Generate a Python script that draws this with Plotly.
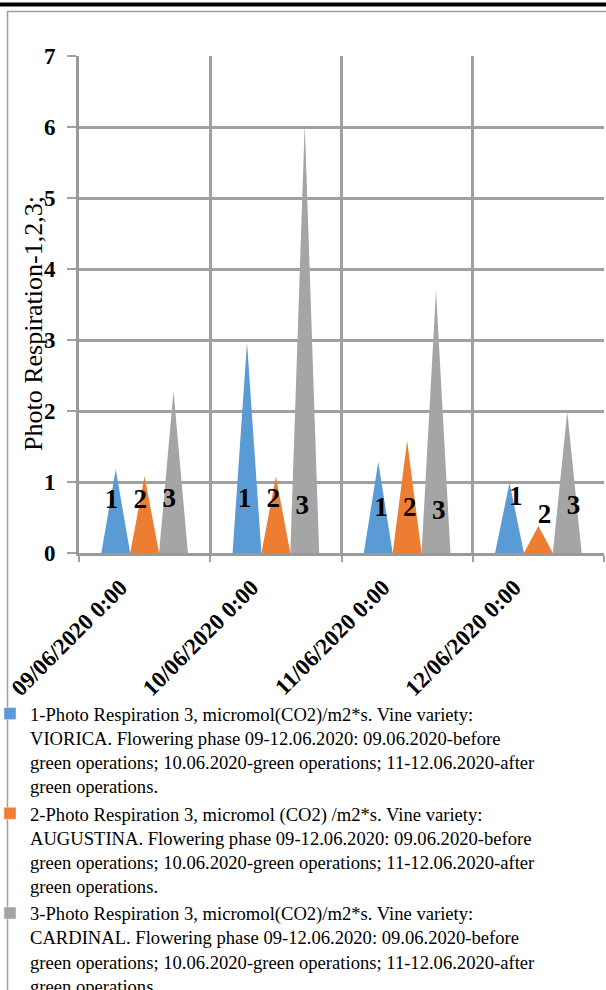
import plotly.graph_objects as go

# ---------------- data ----------------
categories = ["09/06/2020 0:00", "10/06/2020 0:00", "11/06/2020 0:00", "12/06/2020 0:00"]
viorica = [1.18, 2.97, 1.28, 0.99]
augustina = [1.08, 1.08, 1.58, 0.38]
cardinal = [2.28, 6.05, 3.70, 1.99]
series_labels = ["1", "2", "3"]
series_names = [
    "1-Photo Respiration 3, micromol(CO2)/m2*s. Vine variety:<br>VIORICA. Flowering phase 09-12.06.2020: 09.06.2020-before<br>green operations; 10.06.2020-green operations; 11-12.06.2020-after<br>green operations.",
    "2-Photo Respiration 3, micromol (CO2) /m2*s. Vine variety:<br>AUGUSTINA. Flowering phase 09-12.06.2020: 09.06.2020-before<br>green operations; 10.06.2020-green operations; 11-12.06.2020-after<br>green operations.",
    "3-Photo Respiration 3, micromol(CO2)/m2*s. Vine variety:<br>CARDINAL. Flowering phase 09-12.06.2020: 09.06.2020-before<br>green operations; 10.06.2020-green operations; 11-12.06.2020-after<br>green operations.",
]
y_title = "Photo Respiration-1,2,3;"

# ---------------- layout / style ----------------
W, H = 606, 990
ML, MR, MT, MB = 79, 2, 56, 437
PW, PH = W - ML - MR, H - MT - MB
colors = ["#5B9BD5", "#ED7D31", "#A5A5A5"]
BAR_W = 0.22  # width of one cone in category units
LABEL_Y = [  # vertical placement of the in-bar number labels (per series, per category)
    [0.73, 0.75, 0.62, 0.77],
    [0.73, 0.75, 0.62, 0.52],
    [0.75, 0.65, 0.58, 0.65],
]
LABEL_DX = [-0.033, -0.02, 0.02, 0.047]  # horizontal nudge of the number labels per category
SERIF = "Liberation Serif, Times New Roman, serif"
GRID = "#A0A0A0"


def px_x(p):
    return (p - ML) / PW


def px_y(p):
    return (H - MB - p) / PH


fig = go.Figure()
all_series = [viorica, augustina, cardinal]
for i, vals in enumerate(all_series):
    xs, ys = [], []
    for j, v in enumerate(vals):
        c = j + 0.5 + (i - 1) * BAR_W
        xs += [c - BAR_W / 2, c, c + BAR_W / 2, c - BAR_W / 2, None]
        ys += [0, v, 0, 0, None]
    fig.add_trace(go.Scatter(
        x=xs, y=ys, mode="lines", fill="toself", fillcolor=colors[i],
        line=dict(width=0, color=colors[i]), showlegend=False, hoverinfo="skip",
    ))
    # number labels
    lx = [j + 0.5 + (i - 1) * BAR_W + LABEL_DX[j] for j in range(len(vals))]
    fig.add_trace(go.Scatter(
        x=lx, y=LABEL_Y[i], mode="text", text=[series_labels[i]] * len(vals),
        textfont=dict(family=SERIF, size=27, color="black", weight="bold"),
        showlegend=False, hoverinfo="skip",
    ))
    # legend entry
    fig.add_trace(go.Bar(x=[None], y=[None], name=series_names[i],
                         marker=dict(color=colors[i]), showlegend=True))

fig.update_layout(
    width=W, height=H,
    margin=dict(l=ML, r=MR, t=MT, b=MB, pad=0, autoexpand=False),
    paper_bgcolor="white", plot_bgcolor="white",
    showlegend=True,
    legend=dict(
        x=px_x(-10), y=px_y(695), xanchor="left", yanchor="top", valign="top",
        font=dict(family=SERIF, size=18.6, color="black"),
        bgcolor="rgba(0,0,0,0)", tracegroupgap=0, itemwidth=30,
    ),
    xaxis=dict(
        range=[0, 4], tickmode="array", tickvals=[0.5, 1.5, 2.5, 3.5], ticktext=categories,
        tickangle=-45, ticks="", showgrid=False, zeroline=False,
        showline=True, linecolor="#999999", linewidth=3,
        tickfont=dict(family=SERIF, size=23, color="black", weight="bold"),
        ticklabelstandoff=9, ticklabelshift=-24,
        minor=dict(tickvals=[0, 1, 2, 3, 4], showgrid=True, gridcolor=GRID, gridwidth=2.5,
                   ticks="outside", ticklen=6, tickcolor=GRID, tickwidth=2),
    ),
    yaxis=dict(
        range=[0, 7], dtick=1, showgrid=True, gridcolor=GRID, gridwidth=2.5,
        zeroline=False, showline=True, linecolor="#999999", linewidth=3,
        ticks="outside", ticklen=9, tickcolor=GRID, tickwidth=2,
        tickfont=dict(family=SERIF, size=23, color="black", weight="bold"),
        ticklabelstandoff=7,
    ),
    annotations=[dict(
        text=y_title, textangle=-90, xref="paper", yref="paper",
        x=px_x(33), y=px_y(324), xanchor="center", yanchor="middle", showarrow=False,
        font=dict(family=SERIF, size=26, color="black"),
    )],
    shapes=[
        dict(type="line", xref="paper", yref="paper", x0=px_x(-5), x1=px_x(W + 5),
             y0=px_y(4.5), y1=px_y(4.5), line=dict(color="black", width=4), layer="above"),
        dict(type="rect", xref="paper", yref="paper", x0=px_x(7.5), x1=px_x(W + 20),
             y0=px_y(11.5), y1=px_y(H + 20), line=dict(color="#A0A0A0", width=1.5), layer="below"),
    ],
)

fig.write_html("out.html")
